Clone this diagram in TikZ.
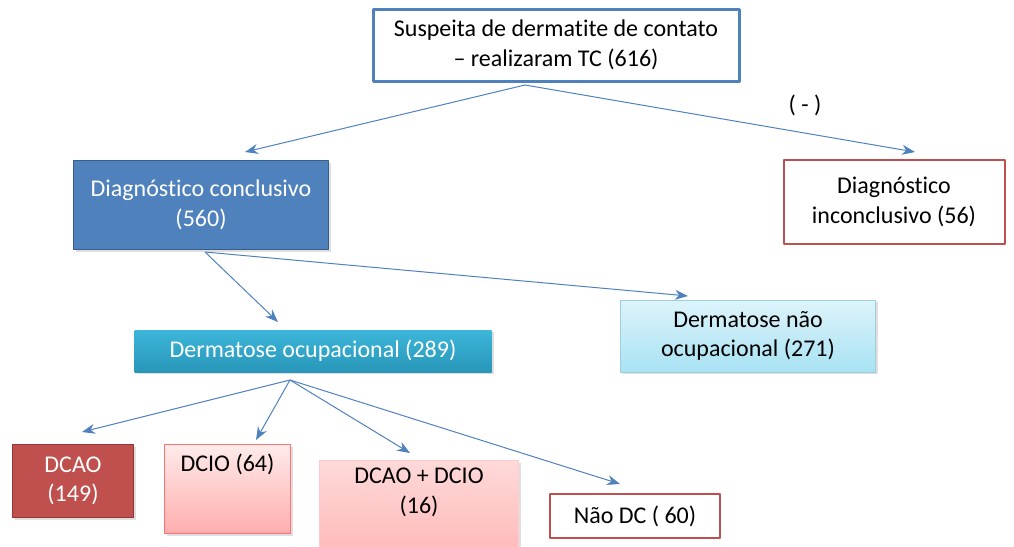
\documentclass[tikz,border=0pt]{standalone}
\usepackage{fontspec}
\setmainfont[RawFeature={-liga;-clig;-calt}]{Carlito}
\usetikzlibrary{shadows,arrows.meta}
\definecolor{azul}{HTML}{4F81BD}
\definecolor{azulesc}{HTML}{385D8A}
\definecolor{verm}{HTML}{C0504D}
\definecolor{vermesc}{HTML}{943634}
\definecolor{ciano}{HTML}{3CB6DA}
\definecolor{cianoesc}{HTML}{2896B8}
\definecolor{cianoclaro}{HTML}{DDF4FB}
\definecolor{cianomed}{HTML}{A8E2F3}
\begin{document}
\begin{tikzpicture}[x=1pt,y=-1pt,>={Stealth[length=13pt,width=10pt]},line join=round,font=\fontsize{24}{29.5}\selectfont,
  caixa/.style={rectangle,align=center,inner sep=3pt,line width=1.5pt},
  sombra/.style={drop shadow={shadow xshift=2pt,shadow yshift=-2pt,opacity=.25}},
  seta/.style={->,azul,line width=1pt}]
\useasboundingbox (0,0) rectangle (1014,546);
% caixas
\node[caixa,draw=azul,fill=white,line width=3pt,minimum width=366,minimum height=72,sombra] (tc) at (556,45)
  {Suspeita de dermatite de contato\\ -- realizaram TC (616)};
\node[caixa,draw=azulesc,fill=azul,text=white,minimum width=255,minimum height=89,sombra] (concl) at (201,205)
  {Diagnóstico conclusivo\\(560)};
\node[caixa,draw=verm,fill=white,line width=2pt,minimum width=221,minimum height=84] (inconcl) at (894,202)
  {Diagnóstico\\inconclusivo (56)};
\node[caixa,draw=none,top color=ciano,bottom color=cianoesc,text=white,
  minimum width=357,minimum height=42,sombra] (ocup) at (313,351) {Dermatose ocupacional (289)};
\node[caixa,draw=cianomed!80!gray,line width=1pt,top color=cianoclaro,bottom color=cianomed,
  minimum width=255,minimum height=72,sombra] (naoocup) at (748,336) {Dermatose não\\ocupacional (271)};
\node[caixa,draw=vermesc,fill=verm,text=white,minimum width=121,minimum height=73,sombra] (dcao) at (73,481)
  {DCAO\\(149)};
\node[caixa,anchor=north west,draw=red!55,line width=1pt,top color=red!8,bottom color=red!32,
  minimum width=126,minimum height=89,text depth=52pt,sombra] (dcio) at (164,444) {DCIO (64)};
\node[caixa,anchor=north west,draw=red!20,line width=1pt,top color=red!15,bottom color=red!28,
  minimum width=199,minimum height=100,text depth=40pt,sombra] (ambos) at (319,460) {DCAO + DCIO\\(16)};
\node[caixa,draw=verm,fill=white,line width=2pt,minimum width=170,minimum height=44] (naodc) at (635,516)
  {Não DC ( 60)};
\node (neg) at (805,105) {( - )};
% pontos de saida e chegada
\coordinate (s1) at (525,85);
\coordinate (s2) at (205,252);
\coordinate (s3) at (290,380);
\coordinate (c1) at (245,152);
\coordinate (c2) at (915,152);
\coordinate (c3) at (278,322);
\coordinate (c4) at (688,296);
\coordinate (c5) at (82,432);
\coordinate (c6) at (256,440);
\coordinate (c7) at (410,453);
\coordinate (c8) at (620,484);
\draw[seta] (s1)--(c1);
\draw[seta] (s1)--(c2);
\draw[seta] (s2)--(c3);
\draw[seta] (s2)--(c4);
\draw[seta] (s3)--(c5);
\draw[seta] (s3)--(c6);
\draw[seta] (s3)--(c7);
\draw[seta] (s3)--(c8);
\end{tikzpicture}
\end{document}
